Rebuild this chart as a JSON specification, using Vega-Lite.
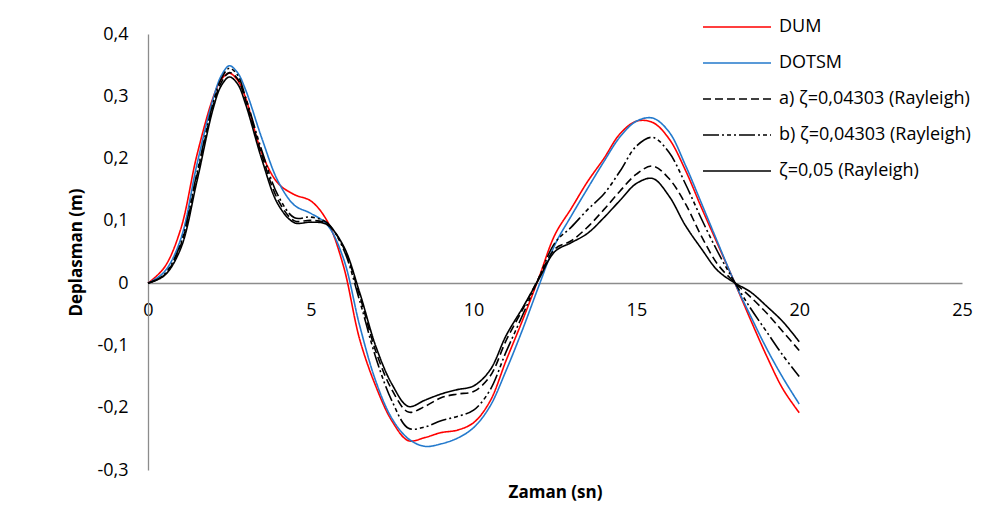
{
  "$schema": "https://vega.github.io/schema/vega-lite/v6.json",
  "autosize": {"type": "none"},
  "padding": {"left": 148, "top": 34, "right": 25, "bottom": 60},
  "width": 814,
  "height": 436,
  "background": "white",
  "config": {
    "view": {"stroke": null},
    "font": "Open Sans",
    "axis": {"labelFont": "Open Sans", "titleFont": "Open Sans"},
    "legend": {"labelFont": "Open Sans"}
  },
  "data": {
    "values": [
      {"t": 0, "DUM": 0, "DOTSM": 0, "A": 0, "B": 0, "C": 0},
      {"t": 0.5, "DUM": 0.025, "DOTSM": 0.018, "A": 0.013, "B": 0.014, "C": 0.012},
      {"t": 1.0, "DUM": 0.086, "DOTSM": 0.070, "A": 0.060, "B": 0.063, "C": 0.055},
      {"t": 1.5, "DUM": 0.205, "DOTSM": 0.190, "A": 0.172, "B": 0.176, "C": 0.163},
      {"t": 2.0, "DUM": 0.298, "DOTSM": 0.296, "A": 0.285, "B": 0.289, "C": 0.280},
      {"t": 2.25, "DUM": 0.327, "DOTSM": 0.333, "A": 0.322, "B": 0.328, "C": 0.317},
      {"t": 2.5, "DUM": 0.337, "DOTSM": 0.349, "A": 0.338, "B": 0.345, "C": 0.331},
      {"t": 2.75, "DUM": 0.326, "DOTSM": 0.338, "A": 0.328, "B": 0.334, "C": 0.320},
      {"t": 3.0, "DUM": 0.297, "DOTSM": 0.310, "A": 0.293, "B": 0.298, "C": 0.287},
      {"t": 3.5, "DUM": 0.208, "DOTSM": 0.232, "A": 0.205, "B": 0.212, "C": 0.198},
      {"t": 4.0, "DUM": 0.160, "DOTSM": 0.163, "A": 0.133, "B": 0.140, "C": 0.126},
      {"t": 4.5, "DUM": 0.142, "DOTSM": 0.125, "A": 0.100, "B": 0.105, "C": 0.097},
      {"t": 5.0, "DUM": 0.132, "DOTSM": 0.112, "A": 0.101, "B": 0.106, "C": 0.098},
      {"t": 5.5, "DUM": 0.100, "DOTSM": 0.094, "A": 0.095, "B": 0.097, "C": 0.094},
      {"t": 6.0, "DUM": 0.028, "DOTSM": 0.040, "A": 0.058, "B": 0.055, "C": 0.060},
      {"t": 6.5, "DUM": -0.090, "DOTSM": -0.068, "A": -0.020, "B": -0.028, "C": -0.015},
      {"t": 7.0, "DUM": -0.166, "DOTSM": -0.158, "A": -0.110, "B": -0.120, "C": -0.102},
      {"t": 7.5, "DUM": -0.222, "DOTSM": -0.218, "A": -0.172, "B": -0.190, "C": -0.163},
      {"t": 8.0, "DUM": -0.253, "DOTSM": -0.250, "A": -0.207, "B": -0.233, "C": -0.198},
      {"t": 8.5, "DUM": -0.248, "DOTSM": -0.262, "A": -0.198, "B": -0.231, "C": -0.188},
      {"t": 9.0, "DUM": -0.240, "DOTSM": -0.258, "A": -0.184, "B": -0.221, "C": -0.178},
      {"t": 9.5, "DUM": -0.236, "DOTSM": -0.249, "A": -0.178, "B": -0.214, "C": -0.171},
      {"t": 10.0, "DUM": -0.224, "DOTSM": -0.232, "A": -0.174, "B": -0.204, "C": -0.165},
      {"t": 10.5, "DUM": -0.190, "DOTSM": -0.198, "A": -0.150, "B": -0.172, "C": -0.140},
      {"t": 11.0, "DUM": -0.124, "DOTSM": -0.140, "A": -0.092, "B": -0.110, "C": -0.084},
      {"t": 11.5, "DUM": -0.060, "DOTSM": -0.075, "A": -0.043, "B": -0.052, "C": -0.040},
      {"t": 12.0, "DUM": 0.008, "DOTSM": -0.005, "A": 0.008, "B": 0.008, "C": 0.006},
      {"t": 12.5, "DUM": 0.078, "DOTSM": 0.062, "A": 0.055, "B": 0.065, "C": 0.051},
      {"t": 13.0, "DUM": 0.120, "DOTSM": 0.108, "A": 0.068, "B": 0.090, "C": 0.065},
      {"t": 13.5, "DUM": 0.163, "DOTSM": 0.152, "A": 0.090, "B": 0.118, "C": 0.080},
      {"t": 14.0, "DUM": 0.200, "DOTSM": 0.195, "A": 0.118, "B": 0.143, "C": 0.105},
      {"t": 14.5, "DUM": 0.240, "DOTSM": 0.235, "A": 0.148, "B": 0.180, "C": 0.133},
      {"t": 15.0, "DUM": 0.260, "DOTSM": 0.260, "A": 0.175, "B": 0.220, "C": 0.160},
      {"t": 15.5, "DUM": 0.258, "DOTSM": 0.265, "A": 0.188, "B": 0.234, "C": 0.168},
      {"t": 16.0, "DUM": 0.232, "DOTSM": 0.243, "A": 0.168, "B": 0.210, "C": 0.140},
      {"t": 16.5, "DUM": 0.182, "DOTSM": 0.190, "A": 0.128, "B": 0.160, "C": 0.093},
      {"t": 17.0, "DUM": 0.121, "DOTSM": 0.128, "A": 0.075, "B": 0.103, "C": 0.055},
      {"t": 17.5, "DUM": 0.062, "DOTSM": 0.065, "A": 0.030, "B": 0.050, "C": 0.020},
      {"t": 18.0, "DUM": 0.003, "DOTSM": 0.003, "A": 0.002, "B": 0.003, "C": 0.001},
      {"t": 18.5, "DUM": -0.058, "DOTSM": -0.052, "A": -0.022, "B": -0.040, "C": -0.014},
      {"t": 19.0, "DUM": -0.117, "DOTSM": -0.105, "A": -0.048, "B": -0.078, "C": -0.037},
      {"t": 19.5, "DUM": -0.170, "DOTSM": -0.152, "A": -0.078, "B": -0.116, "C": -0.062},
      {"t": 20.0, "DUM": -0.208, "DOTSM": -0.194, "A": -0.108, "B": -0.150, "C": -0.094}
    ]
  },
  "transform": [
    {"fold": ["DUM", "DOTSM", "A", "B", "C"], "as": ["series", "value"]}
  ],
  "mark": {"type": "line", "interpolate": "catmull-rom"},
  "encoding": {
    "x": {
      "field": "t", "type": "quantitative",
      "scale": {"domain": [0, 25], "nice": false, "zero": false},
      "axis": {
        "values": [0, 5, 10, 15, 20, 25],
        "offset": -187,
        "grid": false, "ticks": false, "tickSize": 0,
        "domainColor": "#8c8c8c", "domainWidth": 1.3,
        "labelFontSize": 18, "labelColor": "#000000", "labelPadding": 18,
        "labelFlush": false,
        "title": "Zaman (sn)", "titleFontSize": 17, "titleFontWeight": "bold",
        "titleColor": "#000000", "titleY": 209, "titleBaseline": "middle"
      }
    },
    "y": {
      "field": "value", "type": "quantitative",
      "scale": {"domain": [-0.3, 0.4], "nice": false, "zero": false},
      "axis": {
        "values": [-0.3, -0.2, -0.1, 0, 0.1, 0.2, 0.3, 0.4],
        "labelExpr": "datum.value == 0 ? '0' : replace(replace(format(datum.value, '.1f'), '.', ','), '\u2212', '-')",
        "grid": false, "ticks": false, "tickSize": 0,
        "domainColor": "#8c8c8c", "domainWidth": 1.3,
        "labelFontSize": 18, "labelColor": "#000000", "labelPadding": 20,
        "labelFlush": false,
        "title": "Deplasman (m)", "titleFontSize": 17, "titleFontWeight": "bold",
        "titleColor": "#000000", "titlePadding": 11
      }
    },
    "color": {
      "field": "series", "type": "nominal",
      "scale": {"domain": ["DUM", "DOTSM", "A", "B", "C"], "range": ["#ff0000", "#2379cc", "#000000", "#000000", "#000000"]},
      "legend": {
        "orient": "none", "legendX": 554, "legendY": -17,
        "title": null, "symbolType": "stroke", "symbolSize": 4624,
        "symbolStrokeWidth": 1.6, "clipHeight": 20, "rowPadding": 16,
        "labelOffset": 7, "labelFontSize": 18, "labelColor": "#000000", "padding": 0,
        "labelLimit": 0,
        "labelExpr": "datum.value == 'DUM' ? '\u00a0DUM' : datum.value == 'A' ? 'a) \u03b6=0,04303 (Rayleigh)' : datum.value == 'B' ? 'b) \u03b6=0,04303 (Rayleigh)' : datum.value == 'C' ? '\u03b6=0,05 (Rayleigh)' : datum.value"
      }
    },
    "strokeDash": {
      "field": "series", "type": "nominal",
      "scale": {"domain": ["DUM", "DOTSM", "A", "B", "C"], "range": [[1, 0], [1, 0], [8, 4], [16, 3, 2, 3, 4, 3, 2, 3], [1, 0]]},
      "legend": {
        "orient": "none", "legendX": 554, "legendY": -17,
        "title": null, "symbolType": "stroke", "symbolSize": 4624,
        "symbolStrokeWidth": 1.6, "clipHeight": 20, "rowPadding": 16,
        "labelOffset": 7, "labelFontSize": 18, "labelColor": "#000000", "padding": 0,
        "labelLimit": 0,
        "labelExpr": "datum.value == 'DUM' ? '\u00a0DUM' : datum.value == 'A' ? 'a) \u03b6=0,04303 (Rayleigh)' : datum.value == 'B' ? 'b) \u03b6=0,04303 (Rayleigh)' : datum.value == 'C' ? '\u03b6=0,05 (Rayleigh)' : datum.value"
      }
    },
    "strokeWidth": {"value": 1.6}
  }
}
